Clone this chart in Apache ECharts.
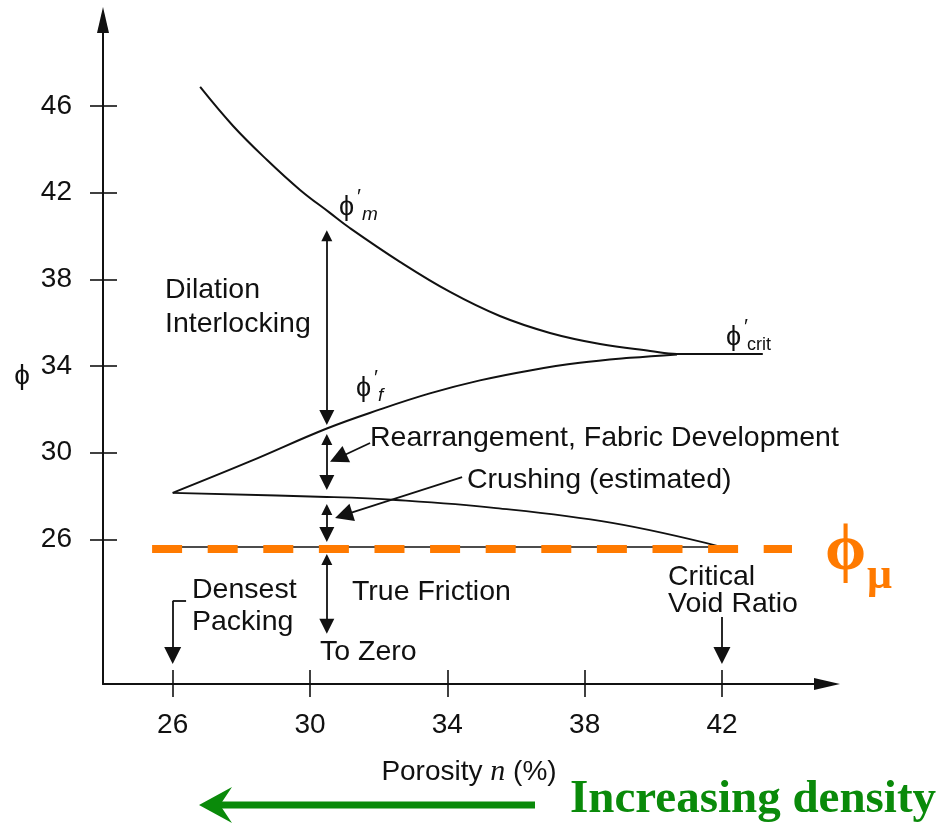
<!DOCTYPE html>
<html>
<head>
<meta charset="utf-8">
<script src="https://cdn.jsdelivr.net/npm/echarts@6/dist/echarts.min.js"></script>
<style>
  html, body { margin: 0; padding: 0; background: #ffffff; }
  #chart { width: 945px; height: 825px; }
</style>
</head>
<body>
<div id="chart"></div>
<script>
// ---- axis ticks -------------------------------------------------------
const X_TICKS = [26, 30, 34, 38, 42];
const Y_TICKS = [26, 30, 34, 38, 42, 46];

// ---- curves: friction angle (deg) vs porosity n (%) --------------------
// peak friction angle phi'_m, converging on phi'_crit
const peakCurve = [
  [26.80, 46.88], [27.76, 45.08], [28.75, 43.51], [29.71, 42.13],
  [30.58, 41.07], [31.16, 40.37], [32.62, 38.81], [34.08, 37.42],
  [35.53, 36.31], [36.99, 35.53], [38.45, 35.02], [39.91, 34.70],
  [40.69, 34.56], [43.19, 34.56]
];
// friction angle phi'_f rising from densest packing to the critical state
const fCurve = [
  [26.00, 28.15], [28.25, 29.60], [30.49, 31.12], [32.04, 32.00],
  [33.49, 32.74], [34.95, 33.34], [36.41, 33.80], [37.86, 34.15],
  [39.32, 34.38], [40.69, 34.54]
];
// lower bound of crushing (estimated)
const crushCurve = [
  [26.00, 28.15], [30.49, 27.96], [32.50, 27.82], [35.42, 27.45],
  [38.80, 26.76], [42.00, 25.65]
];
// true friction level
const trueFriction = [[26.00, 25.65], [42.00, 25.65]];
// phi_mu reference level
const phiMu = [[25.40, 25.56], [44.04, 25.56]];

// ---- annotation arrows (shaft end points, data units) ------------------
const doubleArrows = [
  [[30.49, 40.01], [30.49, 31.63]],   // dilation / interlocking
  [[30.49, 30.61], [30.49, 28.63]],   // rearrangement
  [[30.49, 27.38], [30.49, 26.23]],   // crushing
  [[30.49, 25.08], [30.49, 21.99]]    // true friction, to zero
];
const pointerArrows = [
  [[31.75, 30.45], [30.82, 29.76]],
  [[34.43, 28.88], [30.98, 27.12]]
];
const downArrows = [
  [[26.00, 23.16], [26.00, 20.65]],   // densest packing
  [[42.00, 22.42], [42.00, 20.65]]    // critical void ratio
];
const bracket = [[26.39, 23.16], [26.00, 23.16]];

// ---- axis extents ------------------------------------------------------
const X_MIN = 23.97, X_MAX = 45.06;
const Y_MIN = 19.33, Y_MAX = 49.97;

const INK = '#111111';
const ORANGE = '#ff7a00';
const GREEN = '#0a8a0a';
const SANS = '"Liberation Sans", Arial, "DejaVu Sans", sans-serif';
const SERIF = '"Liberation Serif", "Times New Roman", "DejaVu Serif", serif';
const PHI = '\u03D5';
const PRIME = '\u2032';

function txt(x, y, s, size, extra) {
  extra = extra || {};
  return {
    type: 'text', x: x, y: y, silent: true, z: 20,
    style: Object.assign({
      text: s, fontSize: size, fontFamily: SANS, fill: INK,
      align: 'left', verticalAlign: 'middle'
    }, extra)
  };
}

const chart = echarts.init(document.getElementById('chart'), null, { renderer: 'canvas' });

const axisLineStyle = { color: INK, width: 2 };
const tickStyle = { color: INK, width: 1.6 };
const curveBase = { type: 'line', symbol: 'none', smooth: 0.4, silent: true, z: 3 };

const option = {
  backgroundColor: '#ffffff',
  animation: false,
  grid: { left: 103, top: 20, width: 724, height: 664, containLabel: false },
  xAxis: [
    {
      type: 'value', position: 'bottom', min: X_MIN, max: X_MAX,
      axisLine: { show: true, onZero: false, symbol: ['none', 'triangle'], symbolSize: [12, 26], lineStyle: axisLineStyle },
      axisTick: { show: true, customValues: X_TICKS, length: 13, inside: false, lineStyle: tickStyle },
      axisLabel: { show: true, customValues: X_TICKS, margin: 27, fontSize: 28, fontFamily: SANS, color: INK },
      splitLine: { show: false }
    },
    {
      type: 'value', position: 'bottom', min: X_MIN, max: X_MAX,
      axisLine: { show: false, onZero: false },
      axisTick: { show: true, customValues: X_TICKS, length: 14, inside: true, lineStyle: tickStyle },
      axisLabel: { show: false },
      splitLine: { show: false }
    }
  ],
  yAxis: [
    {
      type: 'value', position: 'left', min: Y_MIN, max: Y_MAX,
      axisLine: { show: true, onZero: false, symbol: ['none', 'triangle'], symbolSize: [12, 26], lineStyle: axisLineStyle },
      axisTick: { show: true, customValues: Y_TICKS, length: 13, inside: false, lineStyle: tickStyle },
      axisLabel: { show: true, customValues: Y_TICKS, margin: 31, fontSize: 28, fontFamily: SANS, color: INK },
      splitLine: { show: false }
    },
    {
      type: 'value', position: 'left', min: Y_MIN, max: Y_MAX,
      axisLine: { show: false, onZero: false },
      axisTick: { show: true, customValues: Y_TICKS, length: 14, inside: true, lineStyle: tickStyle },
      axisLabel: { show: false },
      splitLine: { show: false }
    }
  ],
  series: [
    Object.assign({ name: 'peak', data: peakCurve, lineStyle: { color: INK, width: 2 } }, curveBase),
    Object.assign({ name: 'phi_f', data: fCurve, lineStyle: { color: INK, width: 2 } }, curveBase),
    Object.assign({ name: 'crushing', data: crushCurve, lineStyle: { color: INK, width: 1.8 } }, curveBase),
    {
      name: 'true friction', type: 'line', data: trueFriction, symbol: 'none',
      lineStyle: { color: INK, width: 1.5 }, silent: true, z: 3
    },
    {
      name: 'phi_mu', type: 'line', data: phiMu, symbol: 'none',
      lineStyle: { color: ORANGE, width: 8, type: [30, 25.6], cap: 'butt' }, silent: true, z: 6
    },
    {
      name: 'double arrows', type: 'lines', coordinateSystem: 'cartesian2d',
      symbol: ['triangle', 'triangle'], symbolSize: [11, 15],
      lineStyle: { color: INK, width: 1.8, opacity: 1, curveness: 0 },
      data: doubleArrows.map(c => ({ coords: c })), silent: true, z: 5
    },
    {
      name: 'pointers', type: 'lines', coordinateSystem: 'cartesian2d',
      symbol: ['none', 'triangle'], symbolSize: [12, 18],
      lineStyle: { color: INK, width: 1.8, opacity: 1, curveness: 0 },
      data: pointerArrows.map(c => ({ coords: c })), silent: true, z: 5
    },
    {
      name: 'down arrows', type: 'lines', coordinateSystem: 'cartesian2d',
      symbol: ['none', 'triangle'], symbolSize: [16, 17],
      lineStyle: { color: INK, width: 1.8, opacity: 1, curveness: 0 },
      data: downArrows.map(c => ({ coords: c })), silent: true, z: 5
    },
    {
      name: 'bracket', type: 'line', data: bracket, symbol: 'none',
      lineStyle: { color: INK, width: 1.8 }, silent: true, z: 5
    }
  ],
  graphic: [
    // y-axis symbol
    txt(22, 376, PHI, 28, { align: 'center' }),
    // curve labels
    txt(339, 208, PHI, 27),
    txt(357, 197, PRIME, 21),
    txt(362, 215, 'm', 19, { fontStyle: 'italic' }),
    txt(356, 389, PHI, 27),
    txt(374, 378, PRIME, 21),
    txt(378, 396, 'f', 19, { fontStyle: 'italic' }),
    txt(726, 338, PHI, 27),
    txt(744, 327, PRIME, 21),
    txt(747, 345, 'crit', 18),
    // zone labels
    txt(165, 290, 'Dilation', 28.5),
    txt(165, 324, 'Interlocking', 28.5),
    txt(370, 438, 'Rearrangement, Fabric Development', 28.5),
    txt(467, 480, 'Crushing (estimated)', 28.5),
    txt(352, 592, 'True Friction', 28.5),
    txt(192, 590, 'Densest', 28.5),
    txt(192, 622, 'Packing', 28.5),
    txt(320, 652, 'To Zero', 28.5),
    txt(668, 577, 'Critical', 28.5),
    txt(668, 604, 'Void Ratio', 28.5),
    // x-axis title
    {
      type: 'text', x: 469, y: 772, silent: true, z: 20,
      style: {
        text: '{a|Porosity }{n|n}{a| (%)}', align: 'center', verticalAlign: 'middle',
        rich: {
          a: { fontSize: 28, fontFamily: SANS, fill: INK, color: INK },
          n: { fontSize: 30, fontFamily: SERIF, fontStyle: 'italic', fill: INK, color: INK }
        }
      }
    },
    // phi_mu label
    txt(825, 552, PHI, 66, { fontFamily: SERIF, fontWeight: 'bold', fill: ORANGE }),
    txt(867, 577, '\u03BC', 44, { fontFamily: SERIF, fontWeight: 'bold', fill: ORANGE }),
    // increasing-density arrow
    {
      type: 'line', silent: true, z: 20,
      shape: { x1: 535, y1: 805, x2: 214, y2: 805 },
      style: { stroke: GREEN, lineWidth: 7 }
    },
    {
      type: 'polygon', silent: true, z: 20,
      shape: { points: [[199, 805], [232, 787], [220, 805], [232, 823]] },
      style: { fill: GREEN }
    },
    txt(570, 800, 'Increasing density', 47, { fontFamily: SERIF, fontWeight: 'bold', fill: GREEN })
  ]
};

chart.setOption(option);
</script>
</body>
</html>
